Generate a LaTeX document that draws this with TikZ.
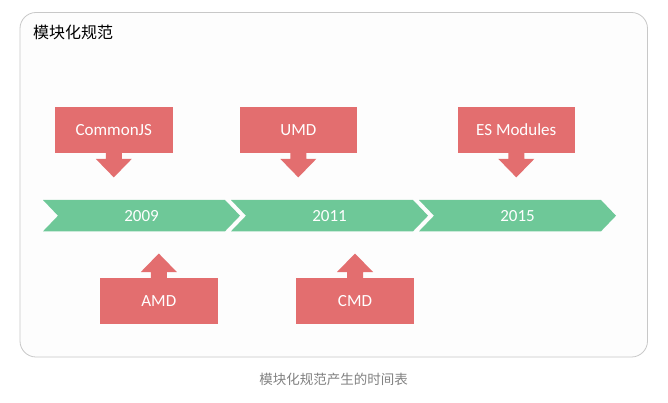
\documentclass[tikz,border=0pt]{standalone}
\usepackage{fontspec}
\setmainfont{Carlito}
\newfontfamily\cjk{Noto Sans CJK SC}
\definecolor{boxred}{RGB}{227,110,111}
\definecolor{chevgreen}{RGB}{110,200,152}
\definecolor{frame}{RGB}{200,200,200}
\definecolor{capgray}{RGB}{130,130,130}
\begin{document}
\begin{tikzpicture}[x=1pt,y=-1pt,
  redbox/.style={fill=boxred,text=white,minimum width=117.5pt,minimum height=46pt,inner sep=0pt,font=\fontsize{17}{20}\selectfont},
  yearlbl/.style={text=white,inner sep=0pt,font=\fontsize{17}{20}\selectfont}]
\useasboundingbox (0,0) rectangle (668,403);
\fill[white] (0,0) rectangle (668,403);
% frame
\draw[frame,fill={rgb,255:red,253;green,253;blue,253},rounded corners=16pt,line width=0.8pt] (20,12.5) rectangle (647.5,357);
\node[anchor=west,inner sep=0pt,font=\cjk\fontsize{16}{19}\selectfont] (title) at (33,32) {模块化规范};
% chevrons
\foreach \s in {43,231,419}{
  \fill[chevgreen] (\s,200) -- ++(182,0) -- ++(15,15.7) -- ++(-15,15.6) -- ++(-182,0) -- ++(15,-15.6) -- cycle;
}
\node[yearlbl] (y2009) at (141.5,216) {2009};
\node[yearlbl] (y2011) at (329.5,216) {2011};
\node[yearlbl] (y2015) at (517.5,216) {2015};
% top boxes
\node[redbox] (cjs) at (113.8,129.7) {CommonJS};
\node[redbox] (umd) at (298.3,129.7) {UMD};
\node[redbox] (esm) at (516.3,129.7) {ES Modules};
% bottom boxes
\node[redbox] (amd) at (158.8,301.2) {AMD};
\node[redbox] (cmd) at (355,301.2) {CMD};
% down arrows
\foreach \n in {cjs,umd,esm}{
  \fill[boxred] (\n.south) ++(-8,-0.5) -- ++(0,6.5) -- ++(-10,0) -- ++(18,18.5) -- ++(18,-18.5) -- ++(-10,0) -- ++(0,-6.5) -- cycle;
}
% up arrows
\foreach \n in {amd,cmd}{
  \fill[boxred] (\n.north) ++(-8,0.5) -- ++(0,-6.5) -- ++(-10,0) -- ++(18,-18.5) -- ++(18,18.5) -- ++(-10,0) -- ++(0,6.5) -- cycle;
}
% caption
\node[inner sep=0pt,text=capgray,font=\cjk\fontsize{13.5}{16}\selectfont] (cap) at (333.5,379) {模块化规范产生的时间表};
\end{tikzpicture}
\end{document}
